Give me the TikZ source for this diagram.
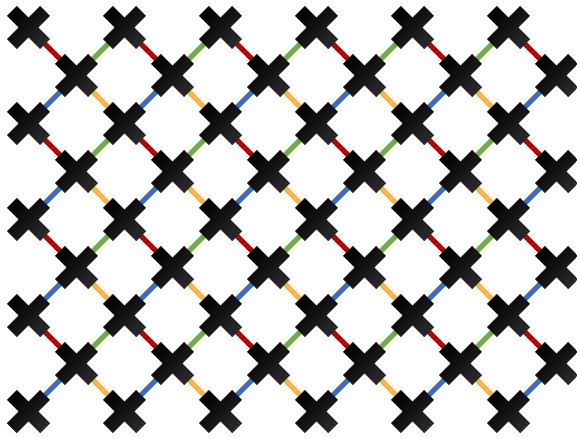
\documentclass[tikz,border=0pt]{standalone}
\definecolor{cred}{HTML}{C00000}
\definecolor{cgreen}{HTML}{70AD47}
\definecolor{cblue}{HTML}{3B6EC0}
\definecolor{corange}{HTML}{FDB43A}
\begin{document}
\begin{tikzpicture}[x=1pt,y=-1pt,
  conn/.style={line width=5pt},
  pics/crossmark/.style={code={
    \shade[left color=black, middle color=black, right color=black!84, shading angle=45]
      (21.57,11.67) -- (11.67,21.57) -- (-21.57,-11.67) -- (-11.67,-21.57) -- cycle
      (11.67,-21.57) -- (21.57,-11.67) -- (-11.67,21.57) -- (-21.57,11.67) -- cycle;
  }}]
\useasboundingbox (0,0) rectangle (577,437);
\foreach \i in {0,...,4} \foreach \j in {0,...,5}
  \coordinate (a\i\j) at ({28.5+96*\j},{27.5+96*\i});
\foreach \i in {0,...,3} \foreach \j in {0,...,5}
  \coordinate (b\i\j) at ({76.5+96*\j},{75.5+96*\i});
\foreach \i in {0,...,3} {
  \foreach \j in {0,...,5} {
    \pgfmathtruncatemacro\rowB{\i+1}
    \pgfmathtruncatemacro\colB{\j+1}
    \draw[conn,cred] (b\i\j) -- (a\i\j);
    \draw[conn,cblue] (b\i\j) -- (a\rowB\j);
    \ifnum\j<5
      \draw[conn,cgreen] (b\i\j) -- (a\i\colB);
      \draw[conn,corange] (b\i\j) -- (a\rowB\colB);
    \fi
  }
}
\foreach \i in {0,...,4} \foreach \j in {0,...,5}
  \pic at (a\i\j) {crossmark};
\foreach \i in {0,...,3} \foreach \j in {0,...,5}
  \pic at (b\i\j) {crossmark};
\end{tikzpicture}
\end{document}
